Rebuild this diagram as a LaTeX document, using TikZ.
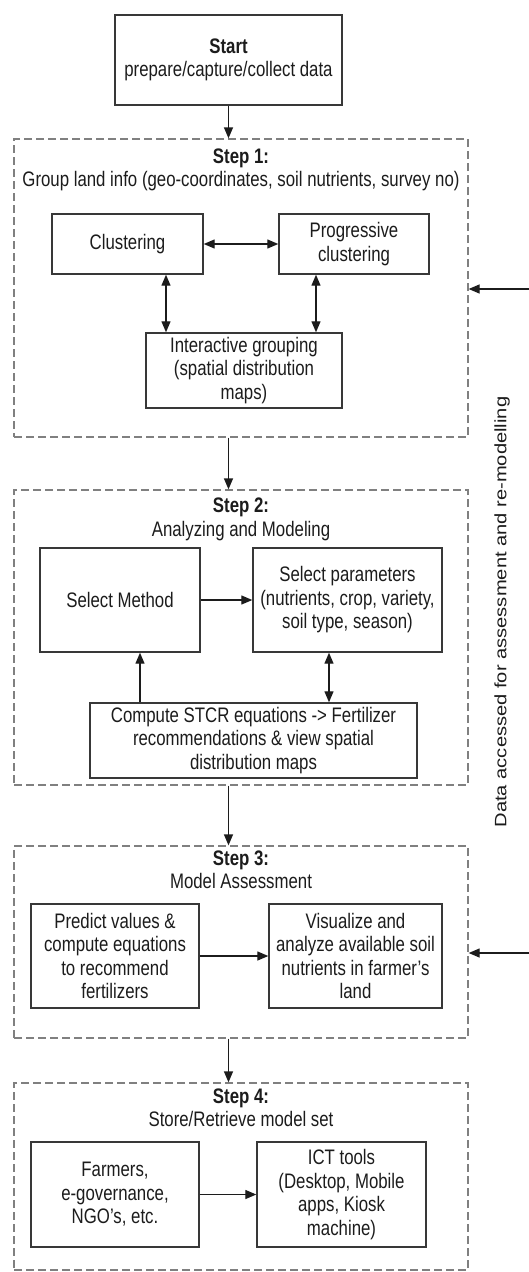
\documentclass[tikz,border=0pt]{standalone}
\usepackage{fontspec}
\setmainfont[FakeStretch=0.8]{Liberation Sans}
\newfontfamily\sidefont[FakeStretch=1.22]{Liberation Sans}
\usetikzlibrary{arrows.meta,calc}
\definecolor{boxline}{HTML}{383838}
\definecolor{frameline}{HTML}{808080}
\definecolor{ink}{HTML}{1C1C1C}
\newcommand\boxfont{\fontsize{21}{23.5}\selectfont}

\begin{document}
\begin{tikzpicture}[x=1pt,y=-1pt,
  box/.style={draw=boxline, line width=1.4pt, fill=white, align=center,
    inner sep=0pt, text=ink, font=\boxfont},
  stepframe/.style={draw=frameline, line width=1.3pt, dash pattern=on 8pt off 4pt,
    inner sep=0pt},
  title/.style={align=center, inner sep=0pt, text=ink, font=\boxfont},
  arr/.style={draw=ink, line width=1.3pt, -{Triangle[length=11pt,width=9pt]}},
  dblarr/.style={draw=ink, line width=1.3pt,
    {Triangle[length=11pt,width=9pt]}-{Triangle[length=11pt,width=9pt]}}]

\useasboundingbox[fill=white] (0,0) rectangle (529,1272);

% start box
\node[box, minimum width=227pt, minimum height=90pt] (start) at (228.5,60)
  {\textbf{Start}\\prepare/capture/collect data};

% step frames
\node[stepframe, minimum width=454pt, minimum height=298pt] (s1) at (241,288) {};
\node[stepframe, minimum width=454pt, minimum height=295pt] (s2) at (241,637.5) {};
\node[stepframe, minimum width=454pt, minimum height=192pt] (s3) at (241,942) {};
\node[stepframe, minimum width=454pt, minimum height=187pt] (s4) at (241,1176.5) {};

% step titles
\node[title] (t1) at (241,170) {\textbf{Step 1:}\\Group land info (geo-coordinates, soil nutrients, survey no)};
\node[title] (t2) at (241,519.5) {\textbf{Step 2:}\\Analyzing and Modeling};
\node[title] (t3) at (241,870) {\textbf{Step 3:}\\Model Assessment};
\node[title] (t4) at (241,1108) {\textbf{Step 4:}\\Store/Retrieve model set};

% step 1 boxes
\node[box, minimum width=151pt, minimum height=60pt] (clus) at (127.5,244) {Clustering};
\node[box, minimum width=150pt, minimum height=60pt] (prog) at (354,244) {Progressive\\clustering};
\node[box, minimum width=196pt, minimum height=75pt] (inter) at (244,370.5)
  {Interactive grouping\\(spatial distribution\\maps)};

% step 2 boxes
\node[box, minimum width=160pt, minimum height=104pt] (meth) at (120,600) {Select Method};
\node[box, minimum width=189pt, minimum height=104pt] (par) at (347.5,600)
  {Select parameters\\(nutrients, crop, variety,\\soil type, season)};
\node[box, minimum width=327pt, minimum height=75pt] (comp) at (253.5,740.5)
  {Compute STCR equations -> Fertilizer\\recommendations \& view spatial\\distribution maps};

% step 3 boxes
\node[box, minimum width=168pt, minimum height=104pt] (pred) at (115,956)
  {Predict values \&\\compute equations\\to recommend\\fertilizers};
\node[box, minimum width=173pt, minimum height=104pt] (vis) at (355.5,956)
  {Visualize and\\analyze available soil\\nutrients in farmer's\\land};

% step 4 boxes
\node[box, minimum width=168pt, minimum height=105pt] (farm) at (115,1194.5)
  {Farmers,\\e-governance,\\NGO's, etc.};
\node[box, minimum width=169pt, minimum height=105pt] (ict) at (341.5,1194.5)
  {ICT tools\\(Desktop, Mobile\\apps, Kiosk\\machine)};

% side label
\node[rotate=90, inner sep=0pt, text=ink, font=\sidefont\fontsize{16.5}{19}\selectfont]
  (side) at (502,612) {Data accessed for assessment and re-modelling};

% flow between stages
\draw[arr] (start.south) -- (start.south |- s1.north);
\draw[arr] (start.south |- s1.south) -- (start.south |- s2.north);
\draw[arr] (start.south |- s2.south) -- (start.south |- s3.north);
\draw[arr] (start.south |- s3.south) -- (start.south |- s4.north);

% attachment points on box edges
\coordinate (clusB) at ($(clus.south)+(38.5,0)$);
\coordinate (progB) at ($(prog.south)+(-38,0)$);
\coordinate (methB) at ($(meth.south)+(20,0)$);
\coordinate (parB)  at ($(par.south)+(-18.5,0)$);

% step 1 links
\draw[dblarr] (clus.east) -- (prog.west);
\draw[dblarr] (clusB) -- (clusB |- inter.north);
\draw[dblarr] (progB) -- (progB |- inter.north);

% step 2 links
\draw[arr] (meth.east) -- (par.west);
\draw[arr] (methB |- comp.north) -- (methB);
\draw[dblarr] (parB) -- (parB |- comp.north);

% step 3 and 4 links
\draw[arr] (pred.east) -- (vis.west);
\draw[arr] (farm.east) -- (ict.west);

% feedback arrows from the right
\coordinate (fb1) at (529,289);
\coordinate (fb2) at (529,953);
\draw[arr] (fb1) -- (fb1 -| s1.east);
\draw[arr] (fb2) -- (fb2 -| s3.east);
\end{tikzpicture}
\end{document}
